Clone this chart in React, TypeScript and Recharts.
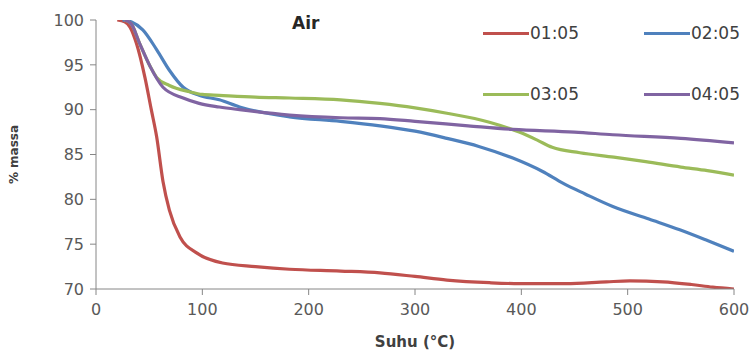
import { LineChart, Line, XAxis, YAxis, Legend, Label } from "recharts";

const seriesNames = ["01:05", "02:05", "03:05", "04:05"];
const seriesColors = ["#C0504D", "#4F81BD", "#9BBB59", "#8064A2"];

const xTicks = [0, 100, 200, 300, 400, 500, 600];
const yTicks = [70, 75, 80, 85, 90, 95, 100];

// 01:05
const temp1 = [20, 27, 32, 38, 46, 52, 57, 63, 69, 79, 95, 119, 150, 182, 230, 267, 300, 330, 370, 398, 442, 480, 502, 533, 560, 580, 600];
const mass1 = [100, 99.8, 99.2, 97.4, 93.6, 90, 87, 82, 78.8, 75.8, 74, 72.9, 72.5, 72.2, 72.0, 71.8, 71.4, 71.0, 70.7, 70.6, 70.6, 70.8, 70.9, 70.8, 70.5, 70.2, 70.0];

// 02:05
const temp2 = [25, 33, 44, 57, 69, 82, 97, 116, 135, 182, 230, 267, 300, 330, 360, 392, 420, 439, 460, 486, 520, 549, 575, 600];
const mass2 = [100, 99.8, 98.9, 96.7, 94.4, 92.5, 91.6, 91.1, 90.3, 89.2, 88.7, 88.2, 87.6, 86.8, 85.9, 84.6, 83.1, 81.8, 80.6, 79.2, 77.8, 76.6, 75.4, 74.2];

// 03:05
const temp3 = [27, 33, 41, 51, 57, 69, 88, 100, 116, 150, 182, 230, 267, 300, 330, 370, 398, 415, 429, 455, 487, 517, 550, 575, 600];
const mass3 = [100, 99.6, 97.4, 94.8, 93.6, 92.7, 92.0, 91.7, 91.6, 91.4, 91.3, 91.1, 90.7, 90.2, 89.6, 88.6, 87.5, 86.6, 85.8, 85.2, 84.7, 84.2, 83.6, 83.2, 82.7];

// 04:05
const temp4 = [27, 33, 41, 51, 63, 82, 97, 116, 135, 182, 230, 267, 300, 350, 392, 450, 486, 550, 600];
const mass4 = [100, 99.6, 97.4, 94.8, 92.5, 91.3, 90.7, 90.3, 90, 89.4, 89.1, 89.0, 88.7, 88.2, 87.8, 87.5, 87.2, 86.8, 86.3];

const toRows = (t: number[], m: number[]) => t.map((x, i) => ({ x, y: m[i] }));
const series = [toRows(temp1, mass1), toRows(temp2, mass2), toRows(temp3, mass3), toRows(temp4, mass4)];

const font = "DejaVu Sans";
const axisColor = "#868686";
const textColor = "#595959";

const legendPos = [
  { left: 483, top: 23 },
  { left: 644, top: 23 },
  { left: 483, top: 84 },
  { left: 644, top: 84 },
];

function LegendBox() {
  return (
    <div style={{ position: "relative", width: 749, height: 0 }}>
      {seriesNames.map((name, i) => (
        <div
          key={name}
          style={{
            position: "absolute",
            left: legendPos[i].left,
            top: legendPos[i].top,
            display: "flex",
            alignItems: "center",
            fontFamily: font,
            fontSize: 17,
            color: "#404040",
            lineHeight: "20px",
          }}
        >
          <span style={{ display: "inline-block", width: 46, height: 3, background: seriesColors[i], marginRight: 1 }} />
          {name}
        </div>
      ))}
    </div>
  );
}

export default function App() {
  return (
    <div style={{ position: "absolute", left: 0, top: 0, width: 749, height: 350, background: "#fff" }}>
      <LineChart width={749} height={350} margin={{ top: 20, right: 15, bottom: 0, left: 0 }}>
        <XAxis
          type="number"
          dataKey="x"
          domain={[0, 600]}
          ticks={xTicks}
          allowDataOverflow
          height={61}
          stroke={axisColor}
          tickSize={6}
          tickMargin={9}
          tick={{ fill: textColor, fontSize: 16, fontFamily: font }}
        >
          <Label
            value="Suhu (°C)"
            position="insideBottom"
            offset={3}
            style={{ fill: "#404040", fontSize: 15, fontWeight: "bold", fontFamily: font }}
          />
        </XAxis>
        <YAxis
          type="number"
          dataKey="y"
          domain={[70, 100]}
          ticks={yTicks}
          allowDataOverflow
          width={96}
          stroke={axisColor}
          tickSize={6}
          tickMargin={6}
          tick={{ fill: textColor, fontSize: 16, fontFamily: font }}
        >
          <Label
            value="% massa"
            angle={-90}
            position="insideLeft"
            offset={14}
            style={{ textAnchor: "middle", fill: "#404040", fontSize: 12, fontWeight: "bold", fontFamily: font }}
          />
        </YAxis>
        <Legend
          verticalAlign="middle"
          align="center"
          layout="horizontal"
          wrapperStyle={{ top: 0, left: 0, width: 749, height: 0 }}
          content={() => <LegendBox />}
        />
        {series.map((rows, i) => (
          <Line
            key={seriesNames[i]}
            data={rows}
            dataKey="y"
            name={seriesNames[i]}
            type="monotone"
            stroke={seriesColors[i]}
            strokeWidth={3.2}
            dot={false}
            activeDot={false}
            isAnimationActive={false}
          />
        ))}
      </LineChart>
      <div
        style={{
          position: "absolute",
          left: 292,
          top: 12,
          fontFamily: font,
          fontSize: 17,
          fontWeight: "bold",
          color: "#262626",
          lineHeight: "22px",
        }}
      >
        Air
      </div>
    </div>
  );
}
